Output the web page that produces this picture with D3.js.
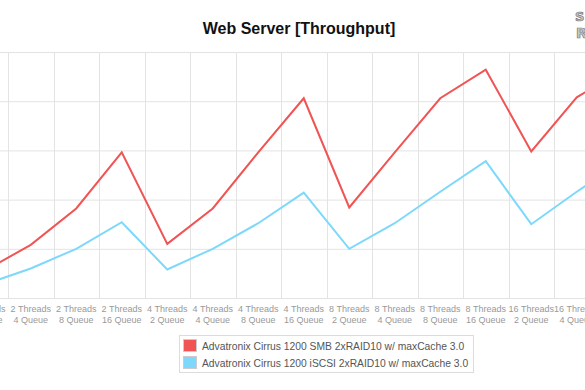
<!DOCTYPE html>
<html>
<head>
<meta charset="utf-8">
<script src="https://cdn.jsdelivr.net/npm/d3@7"></script>
<style>
  body { margin: 0; background: #fff; }
  svg { display: block; }
</style>
</head>
<body>
<svg id="chart" width="585" height="390"></svg>
<script>
const threads = ["2", "2", "2", "2", "4", "4", "4", "4", "8", "8", "8", "8", "16", "16", "16", "16"];
const queues  = ["2", "4", "8", "16", "2", "4", "8", "16", "2", "4", "8", "16", "2", "4", "8", "16"];
const categories = threads.map((t, i) => t + " Threads " + queues[i] + " Queue");
const smbValues   = [28, 54, 91, 148, 55, 91, 148, 203, 92, 148, 203, 232, 149, 204, 231, 245];
const iscsiValues = [14, 30, 50, 77, 29, 50, 76, 107, 50, 76, 108, 139, 75, 108, 139, 162];
const seriesNames = ["Advatronix Cirrus 1200 SMB 2xRAID10 w/ maxCache 3.0",
                     "Advatronix Cirrus 1200 iSCSI 2xRAID10 w/ maxCache 3.0"];
const seriesColors = ["#f05454", "#7dd8fb"];
const yTicks = [0, 50, 100, 150, 200, 250];

const svg = d3.select("#chart");
const plot = { left: -37.5, right: 690.5, top: 52, bottom: 298 };

const x = d3.scaleBand().domain(categories).range([plot.left, plot.right]).padding(0);
const y = d3.scaleLinear().domain([0, 250]).range([plot.bottom, plot.top]);

// Title
svg.append("text")
  .attr("x", 299).attr("y", 33.5)
  .attr("text-anchor", "middle")
  .attr("font-family", "Liberation Sans, Arial, sans-serif")
  .attr("font-weight", "bold")
  .attr("font-size", 16)
  .attr("fill", "#111")
  .text("Web Server [Throughput]");

// Logo (partial, cut at the right edge as in the reference)
const logo = svg.append("g").attr("font-family", "DejaVu Sans, sans-serif").attr("font-weight", "bold")
  .attr("fill", "#c8c8c8").attr("stroke", "#777").attr("stroke-width", 0.7);
logo.append("text").attr("x", 575).attr("y", 21).attr("font-size", 13).text("S");
logo.append("text").attr("x", 576).attr("y", 38).attr("font-size", 14).text("R");

// Horizontal gridlines
const gy = svg.append("g")
  .attr("transform", `translate(${plot.left},0)`)
  .call(d3.axisLeft(y).tickValues(yTicks).tickSize(-(plot.right - plot.left)).tickFormat(""));
gy.select(".domain").remove();
gy.selectAll("line").attr("stroke", "#e3e3e3").attr("stroke-width", 1);

// Vertical gridlines at band boundaries
const bounds = categories.map(c => x(c)).concat([plot.right]);
svg.append("g").selectAll("line").data(bounds).join("line")
  .attr("x1", d => Math.round(d) + 0.5).attr("x2", d => Math.round(d) + 0.5)
  .attr("y1", plot.top).attr("y2", plot.bottom)
  .attr("stroke", "#e3e3e3").attr("stroke-width", 1);

// X axis labels
const gx = svg.append("g")
  .attr("transform", `translate(0,${plot.bottom})`)
  .call(d3.axisBottom(x).tickSize(0).tickFormat(""));
gx.select(".domain").attr("stroke", "#e3e3e3");
gx.selectAll(".tick").each(function(d, i) {
  const t = d3.select(this).append("text")
    .attr("text-anchor", "middle")
    .attr("font-family", "Liberation Sans, Arial, sans-serif")
    .attr("font-size", 9)
    .attr("fill", "#999");
  t.append("tspan").attr("x", 0).attr("y", 14).text(threads[i] + " Threads");
  t.append("tspan").attr("x", 0).attr("y", 24.5).text(queues[i] + " Queue");
});

// Lines
const line = d3.line()
  .x((d, i) => x(categories[i]) + x.bandwidth() / 2)
  .y(d => y(d));
[smbValues, iscsiValues].forEach((vals, k) => {
  svg.append("path")
    .datum(vals)
    .attr("fill", "none")
    .attr("stroke", seriesColors[k])
    .attr("stroke-width", 2)
    .attr("stroke-linejoin", "miter")
    .attr("d", line);
});

// Legend
const lg = svg.append("g");
lg.append("rect")
  .attr("x", 179.5).attr("y", 335.5).attr("width", 294).attr("height", 37)
  .attr("fill", "#fff").attr("stroke", "#dcdcdc");
seriesNames.forEach((name, k) => {
  const yy = 339 + k * 17;
  lg.append("rect").attr("x", 183.5).attr("y", yy + 0.5).attr("width", 13).attr("height", 12)
    .attr("fill", seriesColors[k]).attr("stroke", "#ccc");
  lg.append("text").attr("x", 202).attr("y", yy + 10.5)
    .attr("font-family", "Liberation Sans, Arial, sans-serif")
    .attr("font-size", 10.3).attr("fill", "#555")
    .text(name);
});
</script>
</body>
</html>
